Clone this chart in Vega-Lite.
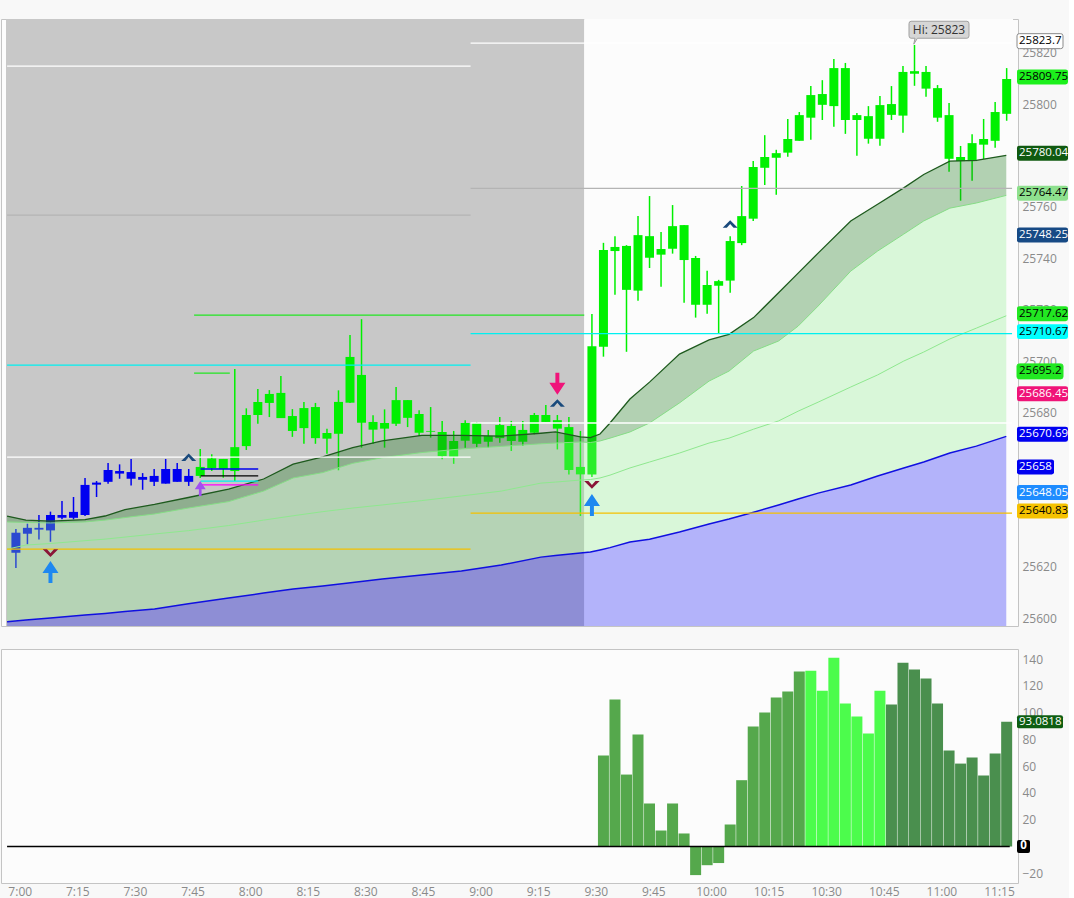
{
  "$schema": "https://vega.github.io/schema/vega-lite/v6.json",
  "background": "#f8f8f8",
  "padding": {"left": 0, "top": 18, "right": 0, "bottom": 0},
  "spacing": 23,
  "bounds": "flush",
  "config": {
    "view": {"stroke": "#c4c4c4", "fill": "#fcfcfc"},
    "font": "Open Sans",
    "axis": {"labelFont": "Open Sans", "labelFontSize": 12, "labelColor": "#8a8a8a", "ticks": false, "grid": false, "domain": false, "labelPadding": 4, "labelOverlap": false, "tickCount": 30}
  },
  "datasets": {
    "sessions": [
      {"t": 416.42, "t2": 567.0, "s": "pre"},
      {"t": 567.0, "t2": 678.65, "s": "rth"}
    ],
    "candles": [
      {"t":419,"o":25625.4,"h":25634.6,"l":25619.5,"c":25633.2,"s":"bear"},
      {"t":422,"o":25632.8,"h":25636.7,"l":25628.7,"c":25635.1,"s":"bear"},
      {"t":425,"o":25634.4,"h":25640.1,"l":25630.6,"c":25635.1,"s":"bear"},
      {"t":428,"o":25634.1,"h":25641.4,"l":25629.7,"c":25640.1,"s":"bear"},
      {"t":431,"o":25640.1,"h":25645.5,"l":25638.4,"c":25639.0,"s":"bear"},
      {"t":434,"o":25639.0,"h":25647.1,"l":25638.4,"c":25641.3,"s":"bear"},
      {"t":437,"o":25640.1,"h":25654.5,"l":25639.7,"c":25651.8,"s":"bear"},
      {"t":440,"o":25651.9,"h":25653.3,"l":25647.1,"c":25652.7,"s":"bear"},
      {"t":443,"o":25653.0,"h":25660.3,"l":25652.3,"c":25657.6,"s":"bear"},
      {"t":446,"o":25657.2,"h":25659.8,"l":25654.2,"c":25656.2,"s":"bear"},
      {"t":449,"o":25656.8,"h":25661.9,"l":25651.6,"c":25654.2,"s":"bear"},
      {"t":452,"o":25654.9,"h":25656.4,"l":25649.9,"c":25653.8,"s":"bear"},
      {"t":455,"o":25653.0,"h":25658.0,"l":25651.4,"c":25655.3,"s":"bear"},
      {"t":458,"o":25652.3,"h":25661.9,"l":25652.3,"c":25658.0,"s":"bear"},
      {"t":461,"o":25658.0,"h":25660.3,"l":25653.0,"c":25653.0,"s":"bear"},
      {"t":464,"o":25653.0,"h":25658.0,"l":25651.4,"c":25655.3,"s":"bear"},
      {"t":467,"o":25655.3,"h":25665.8,"l":25654.5,"c":25658.8,"s":"bull"},
      {"t":470,"o":25658.3,"h":25663.7,"l":25657.2,"c":25662.1,"s":"bull"},
      {"t":473,"o":25661.9,"h":25661.9,"l":25654.6,"c":25658.0,"s":"bull"},
      {"t":476,"o":25657.2,"h":25696.9,"l":25653.3,"c":25666.5,"s":"bull"},
      {"t":479,"o":25666.9,"h":25681.6,"l":25665.4,"c":25679.0,"s":"bull"},
      {"t":482,"o":25679.0,"h":25689.1,"l":25675.6,"c":25684.1,"s":"bull"},
      {"t":485,"o":25683.7,"h":25688.7,"l":25678.2,"c":25687.2,"s":"bull"},
      {"t":488,"o":25687.6,"h":25694.2,"l":25677.8,"c":25677.8,"s":"bull"},
      {"t":491,"o":25678.6,"h":25681.3,"l":25670.5,"c":25672.8,"s":"bull"},
      {"t":494,"o":25673.9,"h":25684.1,"l":25667.8,"c":25681.7,"s":"bull"},
      {"t":497,"o":25682.1,"h":25683.7,"l":25667.8,"c":25670.0,"s":"bull"},
      {"t":500,"o":25672.0,"h":25673.7,"l":25663.9,"c":25669.8,"s":"bull"},
      {"t":503,"o":25671.7,"h":25688.6,"l":25657.5,"c":25684.1,"s":"bull"},
      {"t":506,"o":25683.8,"h":25710.1,"l":25683.7,"c":25701.6,"s":"bull"},
      {"t":509,"o":25694.6,"h":25716.3,"l":25666.3,"c":25676.0,"s":"bull"},
      {"t":512,"o":25676.3,"h":25678.9,"l":25667.8,"c":25673.3,"s":"bull"},
      {"t":515,"o":25673.7,"h":25681.2,"l":25666.3,"c":25675.9,"s":"bull"},
      {"t":518,"o":25675.6,"h":25689.9,"l":25674.7,"c":25684.8,"s":"bull"},
      {"t":521,"o":25684.8,"h":25684.8,"l":25674.3,"c":25677.9,"s":"bull"},
      {"t":524,"o":25679.4,"h":25680.9,"l":25670.8,"c":25672.1,"s":"bull"},
      {"t":527,"o":25672.8,"h":25682.1,"l":25670.2,"c":25672.5,"s":"bull"},
      {"t":530,"o":25672.4,"h":25676.7,"l":25661.8,"c":25663.0,"s":"bull"},
      {"t":533,"o":25662.7,"h":25672.8,"l":25660.0,"c":25668.9,"s":"bull"},
      {"t":536,"o":25669.0,"h":25677.0,"l":25666.3,"c":25675.9,"s":"bull"},
      {"t":539,"o":25675.9,"h":25676.3,"l":25666.5,"c":25667.8,"s":"bull"},
      {"t":542,"o":25668.6,"h":25673.2,"l":25666.3,"c":25670.8,"s":"bull"},
      {"t":545,"o":25670.0,"h":25678.2,"l":25668.2,"c":25675.1,"s":"bull"},
      {"t":548,"o":25674.7,"h":25676.7,"l":25665.0,"c":25668.9,"s":"bull"},
      {"t":551,"o":25668.6,"h":25676.7,"l":25666.9,"c":25673.2,"s":"bull"},
      {"t":554,"o":25672.1,"h":25679.8,"l":25671.5,"c":25679.0,"s":"bull"},
      {"t":557,"o":25679.0,"h":25682.9,"l":25676.3,"c":25676.3,"s":"bull"},
      {"t":560,"o":25677.0,"h":25679.0,"l":25665.6,"c":25673.7,"s":"bull"},
      {"t":563,"o":25674.3,"h":25678.2,"l":25655.9,"c":25657.6,"s":"bull"},
      {"t":566,"o":25658.8,"h":25672.8,"l":25639.7,"c":25655.9,"s":"bull"},
      {"t":569,"o":25655.9,"h":25718.3,"l":25654.9,"c":25705.8,"s":"bull"},
      {"t":572,"o":25705.6,"h":25746.0,"l":25701.7,"c":25743.2,"s":"bull"},
      {"t":575,"o":25742.8,"h":25748.6,"l":25725.8,"c":25744.4,"s":"bull"},
      {"t":578,"o":25744.8,"h":25745.1,"l":25703.6,"c":25727.7,"s":"bull"},
      {"t":581,"o":25727.4,"h":25756.4,"l":25723.5,"c":25749.0,"s":"bull"},
      {"t":584,"o":25748.6,"h":25764.2,"l":25736.2,"c":25740.2,"s":"bull"},
      {"t":587,"o":25741.4,"h":25750.2,"l":25728.9,"c":25743.6,"s":"bull"},
      {"t":590,"o":25743.7,"h":25760.7,"l":25741.8,"c":25752.5,"s":"bull"},
      {"t":593,"o":25752.9,"h":25752.9,"l":25722.7,"c":25739.3,"s":"bull"},
      {"t":596,"o":25740.1,"h":25740.9,"l":25716.9,"c":25721.9,"s":"bull"},
      {"t":599,"o":25721.9,"h":25735.1,"l":25718.4,"c":25729.6,"s":"bull"},
      {"t":602,"o":25729.3,"h":25731.6,"l":25710.8,"c":25731.1,"s":"bull"},
      {"t":605,"o":25731.3,"h":25748.6,"l":25726.6,"c":25746.7,"s":"bull"},
      {"t":608,"o":25745.9,"h":25768.1,"l":25745.1,"c":25756.4,"s":"bull"},
      {"t":611,"o":25755.4,"h":25777.8,"l":25754.5,"c":25775.5,"s":"bull"},
      {"t":614,"o":25775.2,"h":25787.9,"l":25768.5,"c":25779.4,"s":"bull"},
      {"t":617,"o":25779.1,"h":25782.2,"l":25764.7,"c":25780.9,"s":"bull"},
      {"t":620,"o":25781.1,"h":25794.2,"l":25779.5,"c":25786.4,"s":"bull"},
      {"t":623,"o":25785.7,"h":25796.9,"l":25785.7,"c":25795.7,"s":"bull"},
      {"t":626,"o":25794.7,"h":25807.0,"l":25786.1,"c":25803.5,"s":"bull"},
      {"t":629,"o":25803.9,"h":25809.3,"l":25793.8,"c":25799.7,"s":"bull"},
      {"t":632,"o":25799.2,"h":25817.5,"l":25791.2,"c":25814.0,"s":"bull"},
      {"t":635,"o":25814.0,"h":25816.0,"l":25788.4,"c":25793.8,"s":"bull"},
      {"t":638,"o":25793.8,"h":25796.5,"l":25779.9,"c":25795.7,"s":"bull"},
      {"t":641,"o":25795.3,"h":25799.2,"l":25784.6,"c":25786.5,"s":"bull"},
      {"t":644,"o":25786.5,"h":25803.1,"l":25783.8,"c":25799.6,"s":"bull"},
      {"t":647,"o":25800.0,"h":25807.0,"l":25793.8,"c":25795.8,"s":"bull"},
      {"t":650,"o":25795.5,"h":25814.8,"l":25788.8,"c":25812.5,"s":"bull"},
      {"t":653,"o":25812.8,"h":25823.0,"l":25807.1,"c":25811.8,"s":"bull"},
      {"t":656,"o":25812.5,"h":25814.8,"l":25802.8,"c":25806.0,"s":"bull"},
      {"t":659,"o":25806.2,"h":25807.4,"l":25793.1,"c":25794.7,"s":"bull"},
      {"t":662,"o":25795.7,"h":25800.4,"l":25773.7,"c":25778.7,"s":"bull"},
      {"t":665,"o":25777.8,"h":25783.7,"l":25762.4,"c":25779.4,"s":"bull"},
      {"t":668,"o":25777.8,"h":25788.3,"l":25770.2,"c":25784.8,"s":"bull"},
      {"t":671,"o":25784.2,"h":25794.2,"l":25778.6,"c":25786.4,"s":"bull"},
      {"t":674,"o":25785.7,"h":25800.8,"l":25783.0,"c":25796.9,"s":"bull"},
      {"t":677,"o":25796.2,"h":25814.0,"l":25793.5,"c":25809.75,"s":"bull"}
    ],
    "bands": [
      {"t":416.7,"fast":25639.7,"mid":25637.4,"slow":25626.8,"base":25598.6},
      {"t":421.6,"fast":25638.1,"mid":25637.2,"slow":25628.4,"base":25599.2},
      {"t":428.0,"fast":25637.7,"mid":25637.0,"slow":25629.0,"base":25600.0},
      {"t":437.0,"fast":25638.3,"mid":25637.4,"slow":25630.1,"base":25601.2},
      {"t":442.2,"fast":25639.7,"mid":25638.1,"slow":25630.7,"base":25601.8},
      {"t":447.4,"fast":25642.2,"mid":25639.1,"slow":25631.5,"base":25602.5},
      {"t":455.1,"fast":25644.2,"mid":25640.5,"slow":25632.7,"base":25603.5},
      {"t":463.9,"fast":25646.9,"mid":25642.8,"slow":25634.0,"base":25605.6},
      {"t":474.4,"fast":25650.2,"mid":25645.3,"slow":25636.0,"base":25607.8},
      {"t":483.5,"fast":25654.1,"mid":25649.4,"slow":25638.1,"base":25609.7},
      {"t":491.2,"fast":25659.9,"mid":25654.5,"slow":25639.8,"base":25611.3},
      {"t":498.9,"fast":25662.7,"mid":25656.6,"slow":25641.4,"base":25612.5},
      {"t":506.7,"fast":25666.3,"mid":25660.2,"slow":25642.8,"base":25613.8},
      {"t":514.4,"fast":25668.9,"mid":25662.4,"slow":25644.0,"base":25615.2},
      {"t":524.7,"fast":25671.1,"mid":25664.4,"slow":25645.7,"base":25616.7},
      {"t":535.0,"fast":25671.1,"mid":25665.8,"slow":25647.5,"base":25618.3},
      {"t":545.4,"fast":25670.8,"mid":25666.8,"slow":25649.4,"base":25620.6},
      {"t":555.7,"fast":25671.9,"mid":25667.8,"slow":25652.5,"base":25623.7},
      {"t":559.5,"fast":25672.4,"mid":25668.1,"slow":25652.9,"base":25624.3},
      {"t":566.0,"fast":25670.5,"mid":25668.5,"slow":25653.7,"base":25625.3},
      {"t":568.6,"fast":25670.2,"mid":25668.3,"slow":25653.9,"base":25625.7},
      {"t":571.1,"fast":25671.6,"mid":25668.9,"slow":25654.5,"base":25626.5},
      {"t":573.7,"fast":25675.9,"mid":25670.0,"slow":25655.6,"base":25627.4},
      {"t":578.9,"fast":25685.2,"mid":25672.4,"slow":25658.4,"base":25629.6},
      {"t":584.0,"fast":25691.8,"mid":25675.9,"slow":25660.7,"base":25630.7},
      {"t":591.8,"fast":25702.7,"mid":25683.7,"slow":25664.2,"base":25633.5},
      {"t":599.5,"fast":25708.2,"mid":25692.2,"slow":25668.1,"base":25636.6},
      {"t":604.7,"fast":25710.4,"mid":25696.1,"slow":25670.0,"base":25638.5},
      {"t":611.1,"fast":25716.9,"mid":25703.9,"slow":25673.5,"base":25641.2},
      {"t":617.6,"fast":25726.6,"mid":25707.8,"slow":25676.7,"base":25644.0},
      {"t":622.7,"fast":25734.2,"mid":25713.6,"slow":25680.5,"base":25646.3},
      {"t":627.9,"fast":25742.0,"mid":25721.4,"slow":25684.0,"base":25648.6},
      {"t":636.4,"fast":25754.5,"mid":25735.0,"slow":25689.9,"base":25651.8},
      {"t":643.4,"fast":25761.0,"mid":25742.8,"slow":25694.6,"base":25655.3},
      {"t":650.2,"fast":25767.4,"mid":25749.4,"slow":25700.0,"base":25658.4},
      {"t":655.4,"fast":25772.6,"mid":25754.5,"slow":25703.5,"base":25660.7},
      {"t":662.2,"fast":25777.8,"mid":25759.5,"slow":25708.6,"base":25664.2},
      {"t":669.1,"fast":25778.1,"mid":25761.5,"slow":25712.8,"base":25666.9},
      {"t":676.9,"fast":25780.04,"mid":25764.47,"slow":25717.62,"base":25670.69}
    ],
    "levels": [
      {"t":416.7,"t2":537.4,"p":25814.8,"k":"white"},
      {"t":537.4,"t2":678.4,"p":25823.7,"k":"white"},
      {"t":416.7,"t2":537.4,"p":25662.6,"k":"white"},
      {"t":537.4,"t2":678.4,"p":25675.9,"k":"white"},
      {"t":416.7,"t2":537.4,"p":25756.8,"k":"grey"},
      {"t":537.4,"t2":678.4,"p":25767.2,"k":"grey"},
      {"t":465.4,"t2":567.0,"p":25717.9,"k":"green"},
      {"t":465.4,"t2":474.7,"p":25695.3,"k":"green"},
      {"t":416.7,"t2":537.4,"p":25698.4,"k":"cyan"},
      {"t":537.4,"t2":678.4,"p":25710.67,"k":"cyan"},
      {"t":416.7,"t2":537.4,"p":25626.8,"k":"gold"},
      {"t":537.4,"t2":678.4,"p":25640.83,"k":"gold"},
      {"t":467.1,"t2":482.1,"p":25658.0,"k":"blue"},
      {"t":467.1,"t2":482.1,"p":25655.3,"k":"black"},
      {"t":467.1,"t2":482.1,"p":25653.3,"k":"cyan"},
      {"t":467.1,"t2":482.1,"p":25651.8,"k":"magenta"}
    ],
    "signals": [
      {"t":428,"p":25617.9,"sig":"buy"},
      {"t":569,"p":25644.0,"sig":"buy"},
      {"t":428,"p":25625.3,"sig":"exit"},
      {"t":569,"p":25651.8,"sig":"exit"},
      {"t":464,"p":25662.6,"sig":"peak"},
      {"t":560,"p":25683.7,"sig":"peak"},
      {"t":605,"p":25753.3,"sig":"peak"},
      {"t":560,"p":25691.2,"sig":"sell"},
      {"t":467,"p":25650.4,"sig":"alert"}
    ],
    "hilabel": [
      {"t":653,"p":25823,"txt":"Hi: 25823"}
    ],
    "tags": [
      {"p":25823.7,"txt":"25823.7","k":"high"},
      {"p":25809.75,"txt":"25809.75","k":"last"},
      {"p":25780.04,"txt":"25780.04","k":"fast"},
      {"p":25764.47,"txt":"25764.47","k":"mid"},
      {"p":25748.25,"txt":"25748.25","k":"navy"},
      {"p":25717.62,"txt":"25717.62","k":"slow"},
      {"p":25710.67,"txt":"25710.67","k":"cyan"},
      {"p":25695.2,"txt":"25695.2","k":"green"},
      {"p":25686.45,"txt":"25686.45","k":"pink"},
      {"p":25670.69,"txt":"25670.69","k":"base"},
      {"p":25658,"txt":"25658","k":"blue"},
      {"p":25648.05,"txt":"25648.05","k":"azure"},
      {"p":25640.83,"txt":"25640.83","k":"gold"}
    ],
    "hist": [
      {"t":572,"v":67.9,"ph":"trend"},
      {"t":575,"v":109.7,"ph":"trend"},
      {"t":578,"v":53.7,"ph":"trend"},
      {"t":581,"v":83.6,"ph":"trend"},
      {"t":584,"v":32.1,"ph":"trend"},
      {"t":587,"v":11.9,"ph":"trend"},
      {"t":590,"v":32.1,"ph":"trend"},
      {"t":593,"v":9.7,"ph":"trend"},
      {"t":596,"v":-21.4,"ph":"trend"},
      {"t":599,"v":-14.0,"ph":"trend"},
      {"t":602,"v":-12.4,"ph":"trend"},
      {"t":605,"v":16.4,"ph":"trend"},
      {"t":608,"v":49.5,"ph":"trend"},
      {"t":611,"v":89.6,"ph":"trend"},
      {"t":614,"v":100.0,"ph":"trend"},
      {"t":617,"v":111.2,"ph":"trend"},
      {"t":620,"v":115.7,"ph":"trend"},
      {"t":623,"v":130.6,"ph":"trend"},
      {"t":626,"v":131.3,"ph":"peak"},
      {"t":629,"v":116.4,"ph":"peak"},
      {"t":632,"v":141.0,"ph":"peak"},
      {"t":635,"v":106.7,"ph":"peak"},
      {"t":638,"v":97.0,"ph":"peak"},
      {"t":641,"v":84.3,"ph":"peak"},
      {"t":644,"v":116.4,"ph":"peak"},
      {"t":647,"v":106.0,"ph":"fade"},
      {"t":650,"v":137.3,"ph":"fade"},
      {"t":653,"v":132.1,"ph":"fade"},
      {"t":656,"v":125.4,"ph":"fade"},
      {"t":659,"v":106.7,"ph":"fade"},
      {"t":662,"v":71.6,"ph":"fade"},
      {"t":665,"v":61.9,"ph":"fade"},
      {"t":668,"v":66.4,"ph":"fade"},
      {"t":671,"v":53.0,"ph":"fade"},
      {"t":674,"v":69.4,"ph":"fade"},
      {"t":677,"v":93.0818,"ph":"fade"}
    ],
    "zeroline": [
      {"t":416.7,"t2":677.8,"v":0}
    ],
    "osctags": [
      {"v":93.0818,"txt":"93.0818","k":"osc"},
      {"v":0,"txt":"0","k":"zero"}
    ]
  },
  "vconcat": [
    {
      "width": 1017,
      "height": 607,
      "resolve": {"scale": {"color": "independent"}},
      "layer": [
        {
          "data": {"name": "candles"},
          "mark": {"type": "rule", "strokeWidth": 1.5, "clip": true},
          "encoding": {
            "x": {"field": "t", "type": "quantitative", "scale": {"domain": [416.42, 678.65], "nice": false, "zero": false}, "axis": null, "title": null},
            "y": {"field": "l", "type": "quantitative", "scale": {"domain": [25596.9, 25833.1], "nice": false, "zero": false}, "title": null,
                  "axis": {"orient": "right", "title": null, "values": [25600, 25620, 25680, 25700, 25720, 25740, 25760, 25800, 25820], "tickCount": 30, "format": "d", "labelOverlap": false, "ticks": false, "domain": false, "grid": false}},
            "y2": {"field": "h"},
            "color": {"field": "s", "type": "nominal", "scale": {"domain": ["bear", "bull"], "range": ["#0000f0", "#00f000"]}, "legend": null},
            "opacity": {"value": 0}
          }
        },
        {
          "data": {"name": "sessions"},
          "mark": {"type": "rect", "clip": true},
          "encoding": {
            "x": {"field": "t", "type": "quantitative", "scale": {"domain": [416.42, 678.65], "nice": false, "zero": false}, "axis": null, "title": null},
            "x2": {"field": "t2"},
            "color": {"field": "s", "type": "nominal", "scale": {"domain": ["pre", "rth"], "range": ["#c8c8c8", "#fcfcfc"]}, "legend": null}
          }
        },
        {
          "data": {"name": "candles"},
          "mark": {"type": "rule", "strokeWidth": 1.5, "clip": true},
          "encoding": {
            "x": {"field": "t", "type": "quantitative", "scale": {"domain": [416.42, 678.65], "nice": false, "zero": false}, "axis": null, "title": null},
            "y": {"field": "l", "type": "quantitative", "scale": {"domain": [25596.9, 25833.1], "nice": false, "zero": false}, "title": null},
            "y2": {"field": "h"},
            "color": {"field": "s", "type": "nominal", "scale": {"domain": ["bear", "bull"], "range": ["#0000f0", "#00f000"]}, "legend": null}
          }
        },
        {
          "data": {"name": "candles"},
          "mark": {"type": "bar", "size": 9, "clip": true},
          "encoding": {
            "x": {"field": "t", "type": "quantitative", "scale": {"domain": [416.42, 678.65], "nice": false, "zero": false}, "axis": null, "title": null},
            "y": {"field": "o", "type": "quantitative", "scale": {"domain": [25596.9, 25833.1], "nice": false, "zero": false}, "title": null},
            "y2": {"field": "c"},
            "color": {"field": "s", "type": "nominal", "scale": {"domain": ["bear", "bull"], "range": ["#0000f0", "#00f000"]}, "legend": null}
          }
        },
        {
          "data": {"name": "bands"},
          "mark": {"type": "area", "color": "#0000f5", "opacity": 0.29, "clip": true},
          "encoding": {
            "x": {"field": "t", "type": "quantitative", "scale": {"domain": [416.42, 678.65], "nice": false, "zero": false}, "axis": null, "title": null},
            "y": {"field": "base", "type": "quantitative", "scale": {"domain": [25596.9, 25833.1], "nice": false, "zero": false}, "title": null},
            "y2": {"datum": 25596.9}
          }
        },
        {
          "data": {"name": "bands"},
          "mark": {"type": "area", "color": "#8beb8b", "opacity": 0.31, "clip": true},
          "encoding": {
            "x": {"field": "t", "type": "quantitative", "scale": {"domain": [416.42, 678.65], "nice": false, "zero": false}, "axis": null, "title": null},
            "y": {"field": "mid", "type": "quantitative", "scale": {"domain": [25596.9, 25833.1], "nice": false, "zero": false}, "title": null},
            "y2": {"field": "base"}
          }
        },
        {
          "data": {"name": "bands"},
          "mark": {"type": "area", "color": "#1a781a", "opacity": 0.33, "clip": true},
          "encoding": {
            "x": {"field": "t", "type": "quantitative", "scale": {"domain": [416.42, 678.65], "nice": false, "zero": false}, "axis": null, "title": null},
            "y": {"field": "fast", "type": "quantitative", "scale": {"domain": [25596.9, 25833.1], "nice": false, "zero": false}, "title": null},
            "y2": {"field": "mid"}
          }
        },
        {
          "data": {"name": "bands"},
          "mark": {"type": "line", "color": "#8fe88f", "strokeWidth": 1, "clip": true},
          "encoding": {
            "x": {"field": "t", "type": "quantitative", "scale": {"domain": [416.42, 678.65], "nice": false, "zero": false}, "axis": null, "title": null},
            "y": {"field": "slow", "type": "quantitative", "scale": {"domain": [25596.9, 25833.1], "nice": false, "zero": false}, "title": null}
          }
        },
        {
          "data": {"name": "bands"},
          "mark": {"type": "line", "color": "#86dd86", "strokeWidth": 1, "clip": true},
          "encoding": {
            "x": {"field": "t", "type": "quantitative", "scale": {"domain": [416.42, 678.65], "nice": false, "zero": false}, "axis": null, "title": null},
            "y": {"field": "mid", "type": "quantitative", "scale": {"domain": [25596.9, 25833.1], "nice": false, "zero": false}, "title": null}
          }
        },
        {
          "data": {"name": "bands"},
          "mark": {"type": "line", "color": "#1e5a1e", "strokeWidth": 1.3, "clip": true},
          "encoding": {
            "x": {"field": "t", "type": "quantitative", "scale": {"domain": [416.42, 678.65], "nice": false, "zero": false}, "axis": null, "title": null},
            "y": {"field": "fast", "type": "quantitative", "scale": {"domain": [25596.9, 25833.1], "nice": false, "zero": false}, "title": null}
          }
        },
        {
          "data": {"name": "bands"},
          "mark": {"type": "line", "color": "#1010e0", "strokeWidth": 1.5, "clip": true},
          "encoding": {
            "x": {"field": "t", "type": "quantitative", "scale": {"domain": [416.42, 678.65], "nice": false, "zero": false}, "axis": null, "title": null},
            "y": {"field": "base", "type": "quantitative", "scale": {"domain": [25596.9, 25833.1], "nice": false, "zero": false}, "title": null}
          }
        },
        {
          "data": {"name": "levels"},
          "mark": {"type": "rule", "strokeWidth": 1.3, "clip": true},
          "encoding": {
            "x": {"field": "t", "type": "quantitative", "scale": {"domain": [416.42, 678.65], "nice": false, "zero": false}, "axis": null, "title": null},
            "x2": {"field": "t2"},
            "y": {"field": "p", "type": "quantitative", "scale": {"domain": [25596.9, 25833.1], "nice": false, "zero": false}, "title": null},
            "color": {"field": "k", "type": "nominal", "scale": {"domain": ["white", "grey", "green", "cyan", "gold", "blue", "black", "magenta"], "range": ["#ffffff", "#b4b4b4", "#22e622", "#00f0f0", "#f5c000", "#0000ee", "#000000", "#ff00ff"]}, "legend": null}
          }
        },
        {
          "data": {"name": "signals"},
          "transform": [{"filter": "datum.sig == 'buy'"}],
          "mark": {"type": "point", "filled": true, "opacity": 1, "size": 484, "color": "#1e88f0", "shape": "M0,-1L0.73,0.09L0.18,0.09L0.18,1L-0.18,1L-0.18,0.09L-0.73,0.09Z"},
          "encoding": {
            "x": {"field": "t", "type": "quantitative", "scale": {"domain": [416.42, 678.65], "nice": false, "zero": false}, "axis": null, "title": null},
            "y": {"field": "p", "type": "quantitative", "scale": {"domain": [25596.9, 25833.1], "nice": false, "zero": false}, "title": null}
          }
        },
        {
          "data": {"name": "signals"},
          "transform": [{"filter": "datum.sig == 'sell'"}],
          "mark": {"type": "point", "filled": true, "opacity": 1, "size": 484, "color": "#f0147a", "shape": "M0,1L0.73,-0.09L0.18,-0.09L0.18,-1L-0.18,-1L-0.18,-0.09L-0.73,-0.09Z"},
          "encoding": {
            "x": {"field": "t", "type": "quantitative", "scale": {"domain": [416.42, 678.65], "nice": false, "zero": false}, "axis": null, "title": null},
            "y": {"field": "p", "type": "quantitative", "scale": {"domain": [25596.9, 25833.1], "nice": false, "zero": false}, "title": null}
          }
        },
        {
          "data": {"name": "signals"},
          "transform": [{"filter": "datum.sig == 'alert'"}],
          "mark": {"type": "point", "filled": true, "opacity": 1, "size": 225, "color": "#a050f0", "shape": "M0,-1L0.73,0.09L0.18,0.09L0.18,1L-0.18,1L-0.18,0.09L-0.73,0.09Z"},
          "encoding": {
            "x": {"field": "t", "type": "quantitative", "scale": {"domain": [416.42, 678.65], "nice": false, "zero": false}, "axis": null, "title": null},
            "y": {"field": "p", "type": "quantitative", "scale": {"domain": [25596.9, 25833.1], "nice": false, "zero": false}, "title": null}
          }
        },
        {
          "data": {"name": "signals"},
          "transform": [{"filter": "datum.sig == 'exit'"}],
          "mark": {"type": "point", "filled": true, "opacity": 1, "size": 240, "color": "#8a1538", "shape": "M-1,-0.5L-0.45,-0.5L0,0.02L0.45,-0.5L1,-0.5L0,0.5Z"},
          "encoding": {
            "x": {"field": "t", "type": "quantitative", "scale": {"domain": [416.42, 678.65], "nice": false, "zero": false}, "axis": null, "title": null},
            "y": {"field": "p", "type": "quantitative", "scale": {"domain": [25596.9, 25833.1], "nice": false, "zero": false}, "title": null}
          }
        },
        {
          "data": {"name": "signals"},
          "transform": [{"filter": "datum.sig == 'peak'"}],
          "mark": {"type": "point", "filled": true, "opacity": 1, "size": 225, "color": "#1a4a7c", "shape": "M-1,0.5L-0.45,0.5L0,-0.02L0.45,0.5L1,0.5L0,-0.5Z"},
          "encoding": {
            "x": {"field": "t", "type": "quantitative", "scale": {"domain": [416.42, 678.65], "nice": false, "zero": false}, "axis": null, "title": null},
            "y": {"field": "p", "type": "quantitative", "scale": {"domain": [25596.9, 25833.1], "nice": false, "zero": false}, "title": null}
          }
        },
        {
          "data": {"name": "hilabel"},
          "mark": {"type": "point", "filled": true, "opacity": 1, "size": 3600, "color": "#d6d6d6", "stroke": "#a0a0a0", "strokeWidth": 1, "xOffset": 24.5, "yOffset": -15.2,
                   "shape": "M-0.93,-0.283L0.93,-0.283Q1,-0.283 1,-0.2L1,0.2Q1,0.283 0.93,0.283L-0.72,0.283L-0.84,0.48L-0.8,0.283L-0.93,0.283Q-1,0.283 -1,0.2L-1,-0.2Q-1,-0.283 -0.93,-0.283Z"},
          "encoding": {
            "x": {"field": "t", "type": "quantitative", "scale": {"domain": [416.42, 678.65], "nice": false, "zero": false}, "axis": null, "title": null},
            "y": {"field": "p", "type": "quantitative", "scale": {"domain": [25596.9, 25833.1], "nice": false, "zero": false}, "title": null}
          }
        },
        {
          "data": {"name": "hilabel"},
          "mark": {"type": "text", "font": "Open Sans", "fontSize": 12, "color": "#333333", "align": "center", "baseline": "middle", "xOffset": 24.5, "yOffset": -15.2},
          "encoding": {
            "x": {"field": "t", "type": "quantitative", "scale": {"domain": [416.42, 678.65], "nice": false, "zero": false}, "axis": null, "title": null},
            "y": {"field": "p", "type": "quantitative", "scale": {"domain": [25596.9, 25833.1], "nice": false, "zero": false}, "title": null},
            "text": {"field": "txt"}
          }
        },
        {
          "data": {"name": "tags"},
          "transform": [{"filter": "length(datum.txt) == 8"}],
          "mark": {"type": "point", "filled": true, "opacity": 1, "size": 2601, "xOffset": 29.5, "yOffset": -2,
                   "shape": "M-0.9,-0.294L0.9,-0.294Q1,-0.294 1,-0.2L1,0.2Q1,0.294 0.9,0.294L-0.9,0.294Q-1,0.294 -1,0.2L-1,-0.2Q-1,-0.294 -0.9,-0.294Z"},
          "encoding": {
            "x": {"datum": 678.65, "type": "quantitative", "scale": {"domain": [416.42, 678.65], "nice": false, "zero": false}, "axis": null, "title": null},
            "y": {"field": "p", "type": "quantitative", "scale": {"domain": [25596.9, 25833.1], "nice": false, "zero": false}, "title": null},
            "color": {"field": "k", "type": "nominal", "scale": {"domain": ["last", "fast", "mid", "navy", "slow", "cyan", "pink", "base", "azure", "gold"], "range": ["#1cf01c", "#105a10", "#8ee08e", "#174a85", "#22e822", "#00ffff", "#f01478", "#0000f0", "#1e8cff", "#f5c200"]}, "legend": null}
          }
        },
        {
          "data": {"name": "tags"},
          "transform": [{"filter": "length(datum.txt) == 7"}],
          "mark": {"type": "point", "filled": true, "opacity": 1, "size": 2116, "xOffset": 27, "yOffset": -2, "strokeWidth": 1,
                   "shape": "M-0.9,-0.326L0.9,-0.326Q1,-0.326 1,-0.23L1,0.23Q1,0.326 0.9,0.326L-0.9,0.326Q-1,0.326 -1,0.23L-1,-0.23Q-1,-0.326 -0.9,-0.326Z"},
          "encoding": {
            "x": {"datum": 678.65, "type": "quantitative", "scale": {"domain": [416.42, 678.65], "nice": false, "zero": false}, "axis": null, "title": null},
            "y": {"field": "p", "type": "quantitative", "scale": {"domain": [25596.9, 25833.1], "nice": false, "zero": false}, "title": null},
            "color": {"field": "k", "type": "nominal", "scale": {"domain": ["high", "green"], "range": ["#ffffff", "#22e822"]}, "legend": null},
            "stroke": {"condition": {"test": "datum.k == 'high'", "value": "#8a8a8a"}, "value": "#22e822"}
          }
        },
        {
          "data": {"name": "tags"},
          "transform": [{"filter": "length(datum.txt) == 5"}],
          "mark": {"type": "point", "filled": true, "opacity": 1, "size": 1369, "xOffset": 22.5, "yOffset": -2, "color": "#0000f0",
                   "shape": "M-0.88,-0.405L0.88,-0.405Q1,-0.405 1,-0.29L1,0.29Q1,0.405 0.88,0.405L-0.88,0.405Q-1,0.405 -1,0.29L-1,-0.29Q-1,-0.405 -0.88,-0.405Z"},
          "encoding": {
            "x": {"datum": 678.65, "type": "quantitative", "scale": {"domain": [416.42, 678.65], "nice": false, "zero": false}, "axis": null, "title": null},
            "y": {"field": "p", "type": "quantitative", "scale": {"domain": [25596.9, 25833.1], "nice": false, "zero": false}, "title": null}
          }
        },
        {
          "data": {"name": "tags"},
          "mark": {"type": "text", "font": "Open Sans", "fontSize": 11.5, "align": "left", "baseline": "middle", "dx": 6, "dy": -2},
          "encoding": {
            "x": {"datum": 678.65, "type": "quantitative", "scale": {"domain": [416.42, 678.65], "nice": false, "zero": false}, "axis": null, "title": null},
            "y": {"field": "p", "type": "quantitative", "scale": {"domain": [25596.9, 25833.1], "nice": false, "zero": false}, "title": null},
            "text": {"field": "txt"},
            "color": {"condition": {"test": "indexof(['fast','navy','pink','base','blue','azure'], datum.k) >= 0", "value": "#ffffff"}, "value": "#000000"}
          }
        }
      ]
    },
    {
      "width": 1017,
      "height": 234,
      "resolve": {"scale": {"color": "independent"}},
      "layer": [
        {
          "data": {"name": "hist"},
          "mark": {"type": "bar", "size": 11, "clip": true},
          "encoding": {
            "x": {"field": "t", "type": "quantitative", "scale": {"domain": [416.42, 678.65], "nice": false, "zero": false}, "title": null,
                  "axis": {"orient": "bottom", "title": null, "values": [420, 435, 450, 465, 480, 495, 510, 525, 540, 555, 570, 585, 600, 615, 630, 645, 660, 675], "tickCount": 40,
                           "labelExpr": "floor(datum.value / 60) + ':' + (datum.value % 60 < 10 ? '0' : '') + (datum.value % 60)", "labelPadding": 3, "labelFlush": false, "labelOverlap": false, "ticks": false, "domain": false, "grid": false}},
            "y": {"field": "v", "type": "quantitative", "scale": {"domain": [-27.3, 147.5], "nice": false, "zero": false}, "title": null,
                  "axis": {"orient": "right", "title": null, "values": [-20, 20, 40, 60, 80, 100, 120, 140], "tickCount": 30, "labelOverlap": false, "ticks": false, "domain": false, "grid": false}},
            "color": {"field": "ph", "type": "nominal", "scale": {"domain": ["trend", "peak", "fade"], "range": ["#55a84c", "#4cfc4c", "#4a8f4e"]}, "legend": null}
          }
        },
        {
          "data": {"name": "zeroline"},
          "mark": {"type": "rule", "color": "#000000", "strokeWidth": 1.5},
          "encoding": {
            "x": {"field": "t", "type": "quantitative", "scale": {"domain": [416.42, 678.65], "nice": false, "zero": false}, "title": null},
            "x2": {"field": "t2"},
            "y": {"field": "v", "type": "quantitative", "scale": {"domain": [-27.3, 147.5], "nice": false, "zero": false}, "title": null}
          }
        },
        {
          "data": {"name": "osctags"},
          "transform": [{"filter": "datum.k == 'osc'"}],
          "mark": {"type": "point", "filled": true, "opacity": 1, "size": 2116, "xOffset": 27, "color": "#0d5e12",
                   "shape": "M-0.9,-0.283L0.9,-0.283Q1,-0.283 1,-0.2L1,0.2Q1,0.283 0.9,0.283L-0.9,0.283Q-1,0.283 -1,0.2L-1,-0.2Q-1,-0.283 -0.9,-0.283Z"},
          "encoding": {
            "x": {"datum": 678.65, "type": "quantitative", "scale": {"domain": [416.42, 678.65], "nice": false, "zero": false}, "title": null},
            "y": {"field": "v", "type": "quantitative", "scale": {"domain": [-27.3, 147.5], "nice": false, "zero": false}, "title": null}
          }
        },
        {
          "data": {"name": "osctags"},
          "transform": [{"filter": "datum.k == 'zero'"}],
          "mark": {"type": "point", "filled": true, "opacity": 1, "size": 169, "xOffset": 10.5, "color": "#000000",
                   "shape": "M-0.7,-1L0.7,-1Q1,-1 1,-0.7L1,0.7Q1,1 0.7,1L-0.7,1Q-1,1 -1,0.7L-1,-0.7Q-1,-1 -0.7,-1Z"},
          "encoding": {
            "x": {"datum": 678.65, "type": "quantitative", "scale": {"domain": [416.42, 678.65], "nice": false, "zero": false}, "title": null},
            "y": {"field": "v", "type": "quantitative", "scale": {"domain": [-27.3, 147.5], "nice": false, "zero": false}, "title": null}
          }
        },
        {
          "data": {"name": "osctags"},
          "transform": [{"filter": "datum.k == 'osc'"}],
          "mark": {"type": "text", "font": "Open Sans", "fontSize": 11.5, "align": "left", "baseline": "middle", "dx": 6, "color": "#ffffff"},
          "encoding": {
            "x": {"datum": 678.65, "type": "quantitative", "scale": {"domain": [416.42, 678.65], "nice": false, "zero": false}, "title": null},
            "y": {"field": "v", "type": "quantitative", "scale": {"domain": [-27.3, 147.5], "nice": false, "zero": false}, "title": null},
            "text": {"field": "txt"}
          }
        },
        {
          "data": {"name": "osctags"},
          "transform": [{"filter": "datum.k == 'zero'"}],
          "mark": {"type": "text", "font": "Open Sans", "fontSize": 11.5, "fontWeight": "bold", "align": "center", "baseline": "middle", "dx": 10.5, "color": "#ffffff"},
          "encoding": {
            "x": {"datum": 678.65, "type": "quantitative", "scale": {"domain": [416.42, 678.65], "nice": false, "zero": false}, "title": null},
            "y": {"field": "v", "type": "quantitative", "scale": {"domain": [-27.3, 147.5], "nice": false, "zero": false}, "title": null},
            "text": {"field": "txt"}
          }
        }
      ]
    }
  ]
}
